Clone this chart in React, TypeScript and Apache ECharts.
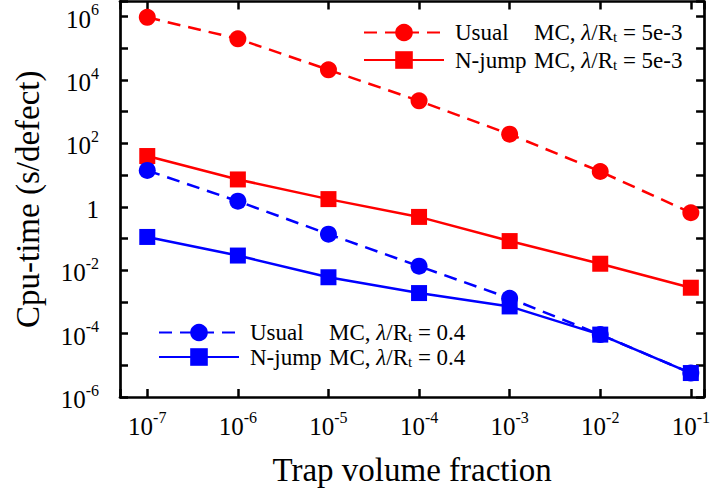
import React, { useEffect, useRef } from 'react';
import * as echarts from 'echarts';

const fractions = [1e-7, 1e-6, 1e-5, 1e-4, 1e-3, 1e-2, 1e-1];
const usualRed = [9.5e5, 2.0e5, 2.1e4, 2.2e3, 195, 13, 0.65];
const njumpRed = [40, 7.3, 1.75, 0.48, 0.083, 0.016, 0.0028];
const usualBlue = [14, 1.5, 0.137, 0.0134, 0.0013, 9.3e-5, 5.7e-6];
const njumpBlue = [0.112, 0.029, 0.006, 0.0019, 7.2e-4, 9.3e-5, 5.7e-6];

const seriesNames = ['Usual 5e-3', 'N-jump 5e-3', 'Usual 0.4', 'N-jump 0.4'];
const legendFirst = ['Usual', 'N-jump', 'Usual', 'N-jump'];
const legendRatio = ['5e-3', '5e-3', '0.4', '0.4'];

const xLabel = 'Trap volume fraction';
const yLabel = 'Cpu-time (s/defect)';

const FONT = "'Liberation Serif', 'Times New Roman', serif";

function powLabel(v: number, step: number): string {
  const l = Math.log10(v);
  const e = Math.round(l);
  if (Math.abs(l - e) > 1e-6) return '';
  if (e % step !== 0) return '';
  if (e === 0) return '{b|1}';
  return `{b|10}{s|${e}}`;
}

const tickRich = {
  b: { fontSize: 25, fontFamily: FONT, color: '#000', verticalAlign: 'bottom', lineHeight: 30 },
  s: { fontSize: 16, fontFamily: FONT, color: '#000', verticalAlign: 'top', lineHeight: 20 },
};

const legendRich = {
  w: { width: 79, fontSize: 23, fontFamily: FONT, color: '#000', lineHeight: 24 },
  n: { fontSize: 23, fontFamily: FONT, color: '#000', lineHeight: 24 },
  l: { fontSize: 23, fontFamily: FONT, fontStyle: 'italic', color: '#000', lineHeight: 24 },
  t: { fontSize: 15, fontFamily: FONT, color: '#000', verticalAlign: 'bottom', lineHeight: 16 },
};

export default function App() {
  const ref = useRef<HTMLDivElement>(null);
  useEffect(() => {
    if (!ref.current) return;
    const chart = echarts.init(ref.current, null, { renderer: 'svg' });
    const mk = (i: number, values: number[], color: string, symbol: string, dashed: boolean) => ({
      name: seriesNames[i],
      type: 'line',
      data: fractions.map((f, k) => [f, values[k]]),
      symbol,
      symbolSize: symbol === 'circle' ? 17 : 16,
      itemStyle: { color },
      lineStyle: { color, width: 2.5, type: dashed ? [13, 8] : 'solid' },
      xAxisIndex: 0,
      yAxisIndex: 0,
    });
    const axisLine = { show: true, lineStyle: { color: '#000', width: 2.7 } };
    const axisTick = { show: true, inside: true, length: 8, lineStyle: { color: '#000', width: 2.5 } };
    const legendFmt = (name: string) => {
      const i = seriesNames.indexOf(name);
      return `{w|${legendFirst[i]}}{n|MC, }{l|λ}{n|/R}{t|t}{n| = ${legendRatio[i]}}`;
    };
    chart.setOption({
      animation: false,
      backgroundColor: '#fff',
      grid: { left: 120, right: 2.5, top: 1.5, bottom: 99, containLabel: false },
      legend: [
        {
          data: [seriesNames[0], seriesNames[1]],
          orient: 'vertical',
          left: 358,
          top: 16,
          itemWidth: 80,
          itemHeight: 22,
          itemGap: 4,
          formatter: legendFmt,
          textStyle: { rich: legendRich, padding: [0, 0, 0, 6] },
        },
        {
          data: [seriesNames[2], seriesNames[3]],
          orient: 'vertical',
          left: 153,
          top: 316,
          itemWidth: 80,
          itemHeight: 22,
          itemGap: 1,
          formatter: legendFmt,
          textStyle: { rich: legendRich, padding: [0, 0, 0, 6] },
        },
      ],
      xAxis: [
        {
          type: 'log',
          min: 5e-8,
          max: 0.14,
          position: 'bottom',
          axisLine,
          axisTick,
          splitLine: { show: false },
          minorTick: { show: false },
          axisLabel: {
            margin: 12,
            formatter: (v: number) => powLabel(v, 1),
            rich: tickRich,
            showMinLabel: true,
            showMaxLabel: true,
          },
          name: xLabel,
          nameLocation: 'middle',
          nameGap: 56,
          nameTextStyle: { fontSize: 33, fontFamily: FONT, color: '#000' },
        },
        {
          type: 'log',
          min: 5e-8,
          max: 0.14,
          position: 'top',
          axisLine,
          axisTick,
          splitLine: { show: false },
          axisLabel: { show: false },
        },
      ],
      yAxis: [
        {
          type: 'log',
          min: 1e-6,
          max: 3e6,
          interval: 1,
          position: 'left',
          axisLine,
          axisTick,
          splitLine: { show: false },
          axisLabel: {
            margin: 21,
            formatter: (v: number) => powLabel(v, 2),
            rich: tickRich,
            interval: 0,
          },
          name: yLabel,
          nameLocation: 'middle',
          nameGap: 76,
          nameTextStyle: { fontSize: 33, fontFamily: FONT, color: '#000' },
        },
        {
          type: 'log',
          min: 1e-6,
          max: 3e6,
          interval: 1,
          position: 'right',
          axisLine,
          axisTick,
          splitLine: { show: false },
          axisLabel: { show: false },
        },
      ],
      series: [
        mk(0, usualRed, '#ff0000', 'circle', true),
        mk(1, njumpRed, '#ff0000', 'rect', false),
        mk(2, usualBlue, '#0000ff', 'circle', true),
        mk(3, njumpBlue, '#0000ff', 'rect', false),
      ],
    });
    return () => chart.dispose();
  }, []);
  return (
    <div
      ref={ref}
      style={{ position: 'fixed', left: 0, top: 0, width: 713, height: 496, background: '#fff' }}
    />
  );
}
